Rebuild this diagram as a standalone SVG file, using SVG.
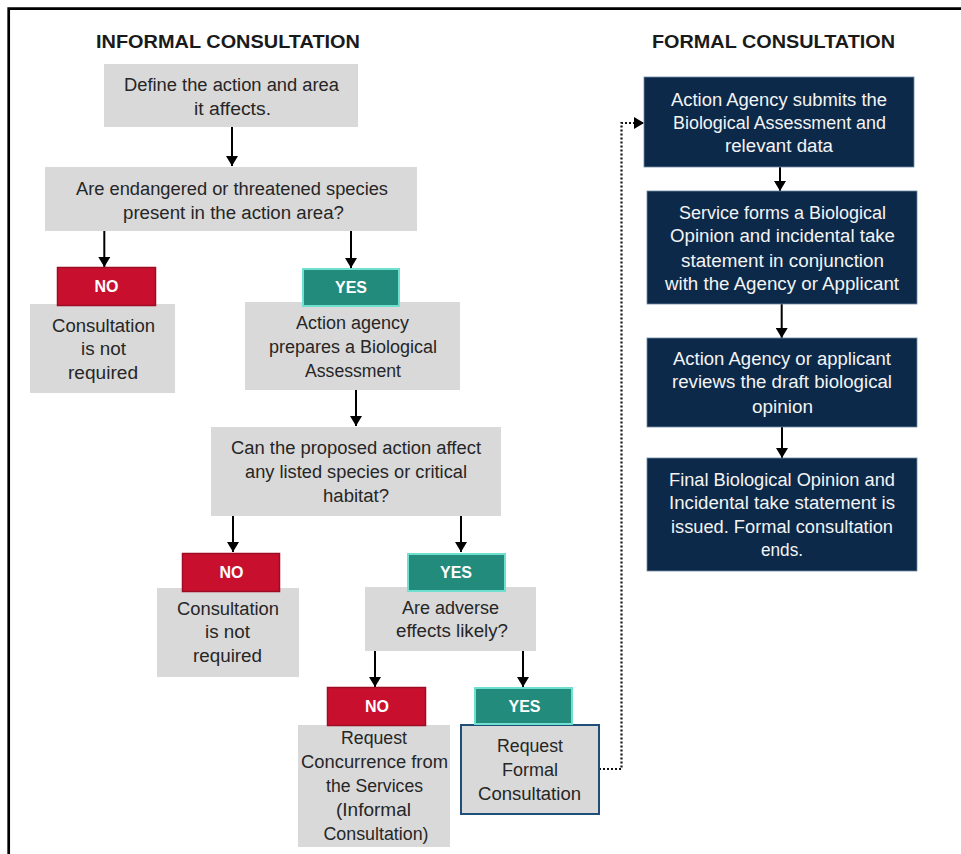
<svg xmlns="http://www.w3.org/2000/svg" width="961" height="854" viewBox="0 0 961 854">
<defs>
<style>
.t{font-family:"Liberation Sans",Arial,sans-serif;font-size:18px;fill:#262626;text-anchor:middle}
.w{fill:#f4f4f4}
.h{font-family:"Liberation Sans",Arial,sans-serif;font-size:19px;font-weight:bold;fill:#1a1a1a;text-anchor:middle}
.lb{font-family:"Liberation Sans",Arial,sans-serif;font-size:16px;font-weight:bold;fill:#ffffff;text-anchor:middle}
.g{fill:#d9d9d9}
.d{fill:#0c294a;stroke:#6f8aa6;stroke-width:0.8}
.no{fill:#c8102e;stroke:#9e0c24;stroke-width:1.5}
.yes{fill:#238b7b;stroke:#6fe0cf;stroke-width:2}
.c{stroke:#000;stroke-width:2;fill:none;marker-end:url(#ah)}
.dot{stroke:#111;stroke-width:2.2;fill:none;stroke-dasharray:2 2;marker-end:url(#ah)}
</style>
<marker id="ah" viewBox="0 0 10 12" refX="10" refY="6" markerWidth="10" markerHeight="12" markerUnits="userSpaceOnUse" orient="auto">
<path d="M0,0 L10,6 L0,12 Z" fill="#000"/>
</marker>
</defs>
<rect width="961" height="854" fill="#fff"/>
<path d="M8.7,854 V8.7 H961" fill="none" stroke="#000" stroke-width="2.7"/>

<text class="h" x="228" y="47.5" textLength="264" lengthAdjust="spacingAndGlyphs">INFORMAL CONSULTATION</text>
<text class="h" x="773.5" y="48" textLength="243" lengthAdjust="spacingAndGlyphs">FORMAL CONSULTATION</text>

<g id="connectors">
<line class="c" x1="232" y1="127" x2="232" y2="166"/>
<line class="c" x1="104.3" y1="231" x2="104.3" y2="267"/>
<line class="c" x1="351" y1="231" x2="351" y2="268"/>
<line class="c" x1="356" y1="390" x2="356" y2="426"/>
<line class="c" x1="233" y1="516" x2="233" y2="552"/>
<line class="c" x1="461" y1="516" x2="461" y2="552"/>
<line class="c" x1="375" y1="651" x2="375" y2="687"/>
<line class="c" x1="523" y1="651" x2="523" y2="687"/>
<line class="c" x1="780" y1="167" x2="780" y2="191"/>
<line class="c" x1="781.7" y1="304" x2="781.7" y2="338"/>
<line class="c" x1="782" y1="427" x2="782" y2="458"/>
<polyline class="dot" points="599,769 621.5,769 621.5,123 644,123"/>
</g>

<g id="define">
<rect class="g" x="104" y="64" width="254" height="63"/>
<text class="t" x="231.5" y="91" textLength="215" lengthAdjust="spacingAndGlyphs">Define the action and area</text>
<text class="t" x="232.5" y="114.5" textLength="77" lengthAdjust="spacingAndGlyphs">it affects.</text>
</g>

<g id="species-present">
<rect class="g" x="45" y="167" width="372" height="64"/>
<text class="t" x="232" y="195" textLength="312" lengthAdjust="spacingAndGlyphs">Are endangered or threatened species</text>
<text class="t" x="233.5" y="218.5" textLength="221" lengthAdjust="spacingAndGlyphs">present in the action area?</text>
</g>

<g id="not-required-1">
<rect class="g" x="30" y="304" width="145" height="89"/>
<text class="t" x="103.5" y="331.5" textLength="103" lengthAdjust="spacingAndGlyphs">Consultation</text>
<text class="t" x="103.5" y="355" textLength="45" lengthAdjust="spacingAndGlyphs">is not</text>
<text class="t" x="103" y="379" textLength="70" lengthAdjust="spacingAndGlyphs">required</text>
</g>
<g id="no-1">
<rect class="no" x="57.5" y="267.5" width="98" height="38"/>
<text class="lb" x="106.5" y="292.3">NO</text>
</g>

<g id="bio-assessment">
<rect class="g" x="245" y="302" width="215" height="88"/>
<text class="t" x="352.5" y="329" textLength="113" lengthAdjust="spacingAndGlyphs">Action agency</text>
<text class="t" x="353" y="353" textLength="168" lengthAdjust="spacingAndGlyphs">prepares a Biological</text>
<text class="t" x="353" y="376.7" textLength="96" lengthAdjust="spacingAndGlyphs">Assessment</text>
</g>
<g id="yes-1">
<rect class="yes" x="303" y="269" width="96" height="37"/>
<text class="lb" x="351" y="293">YES</text>
</g>

<g id="affect-species">
<rect class="g" x="211" y="427" width="290" height="89"/>
<text class="t" x="356" y="454.3" textLength="250" lengthAdjust="spacingAndGlyphs">Can the proposed action affect</text>
<text class="t" x="356" y="478" textLength="222" lengthAdjust="spacingAndGlyphs">any listed species or critical</text>
<text class="t" x="356" y="501.7" textLength="66" lengthAdjust="spacingAndGlyphs">habitat?</text>
</g>

<g id="not-required-2">
<rect class="g" x="157" y="588" width="142" height="89"/>
<text class="t" x="228" y="615" textLength="102" lengthAdjust="spacingAndGlyphs">Consultation</text>
<text class="t" x="227.5" y="638.3" textLength="45" lengthAdjust="spacingAndGlyphs">is not</text>
<text class="t" x="227.5" y="662" textLength="69" lengthAdjust="spacingAndGlyphs">required</text>
</g>
<g id="no-2">
<rect class="no" x="182.5" y="553.5" width="97" height="38"/>
<text class="lb" x="231.5" y="578.3">NO</text>
</g>

<g id="adverse-effects">
<rect class="g" x="365" y="587" width="171" height="64"/>
<text class="t" x="450.5" y="614.3" textLength="97" lengthAdjust="spacingAndGlyphs">Are adverse</text>
<text class="t" x="452" y="637.3" textLength="112" lengthAdjust="spacingAndGlyphs">effects likely?</text>
</g>
<g id="yes-2">
<rect class="yes" x="408" y="554" width="97" height="37"/>
<text class="lb" x="456" y="578">YES</text>
</g>

<g id="request-concurrence">
<rect class="g" x="298" y="725" width="152" height="122"/>
<text class="t" x="374" y="744" textLength="66" lengthAdjust="spacingAndGlyphs">Request</text>
<text class="t" x="374.5" y="768" textLength="147" lengthAdjust="spacingAndGlyphs">Concurrence from</text>
<text class="t" x="374.5" y="792" textLength="97" lengthAdjust="spacingAndGlyphs">the Services</text>
<text class="t" x="373.5" y="816" textLength="75" lengthAdjust="spacingAndGlyphs">(Informal</text>
<text class="t" x="376" y="840" textLength="105" lengthAdjust="spacingAndGlyphs">Consultation)</text>
</g>
<g id="no-3">
<rect class="no" x="327.5" y="687.5" width="98" height="38"/>
<text class="lb" x="377" y="712.3">NO</text>
</g>

<g id="request-formal">
<rect class="g" x="461" y="725" width="138" height="89" stroke="#1f4e79" stroke-width="2"/>
<text class="t" x="530" y="751.7" textLength="66" lengthAdjust="spacingAndGlyphs">Request</text>
<text class="t" x="530" y="776" textLength="56" lengthAdjust="spacingAndGlyphs">Formal</text>
<text class="t" x="529.5" y="800" textLength="103" lengthAdjust="spacingAndGlyphs">Consultation</text>
</g>
<g id="yes-3">
<rect class="yes" x="475" y="688" width="97" height="36"/>
<text class="lb" x="524.5" y="712">YES</text>
</g>

<g id="submit-ba">
<rect class="d" x="644" y="77" width="270" height="90"/>
<text class="t w" x="779" y="106" textLength="216" lengthAdjust="spacingAndGlyphs">Action Agency submits the</text>
<text class="t w" x="779.5" y="129.3" textLength="213" lengthAdjust="spacingAndGlyphs">Biological Assessment and</text>
<text class="t w" x="779" y="152.3" textLength="108" lengthAdjust="spacingAndGlyphs">relevant data</text>
</g>

<g id="service-opinion">
<rect class="d" x="647" y="191" width="270" height="113"/>
<text class="t w" x="782.5" y="219" textLength="207" lengthAdjust="spacingAndGlyphs">Service forms a Biological</text>
<text class="t w" x="782.5" y="242.3" textLength="225" lengthAdjust="spacingAndGlyphs">Opinion and incidental take</text>
<text class="t w" x="782.5" y="266.7" textLength="203" lengthAdjust="spacingAndGlyphs">statement in conjunction</text>
<text class="t w" x="782" y="290" textLength="234" lengthAdjust="spacingAndGlyphs">with the Agency or Applicant</text>
</g>

<g id="review-draft">
<rect class="d" x="647" y="338" width="270" height="89"/>
<text class="t w" x="782" y="365" textLength="218" lengthAdjust="spacingAndGlyphs">Action Agency or applicant</text>
<text class="t w" x="782" y="388.3" textLength="220" lengthAdjust="spacingAndGlyphs">reviews the draft biological</text>
<text class="t w" x="782.5" y="412.7" textLength="61" lengthAdjust="spacingAndGlyphs">opinion</text>
</g>

<g id="final-opinion">
<rect class="d" x="647" y="458" width="270" height="113"/>
<text class="t w" x="782" y="485.7" textLength="226" lengthAdjust="spacingAndGlyphs">Final Biological Opinion and</text>
<text class="t w" x="782" y="509" textLength="226" lengthAdjust="spacingAndGlyphs">Incidental take statement is</text>
<text class="t w" x="782" y="533.3" textLength="222" lengthAdjust="spacingAndGlyphs">issued. Formal consultation</text>
<text class="t w" x="782" y="556" textLength="42" lengthAdjust="spacingAndGlyphs">ends.</text>
</g>
</svg>
